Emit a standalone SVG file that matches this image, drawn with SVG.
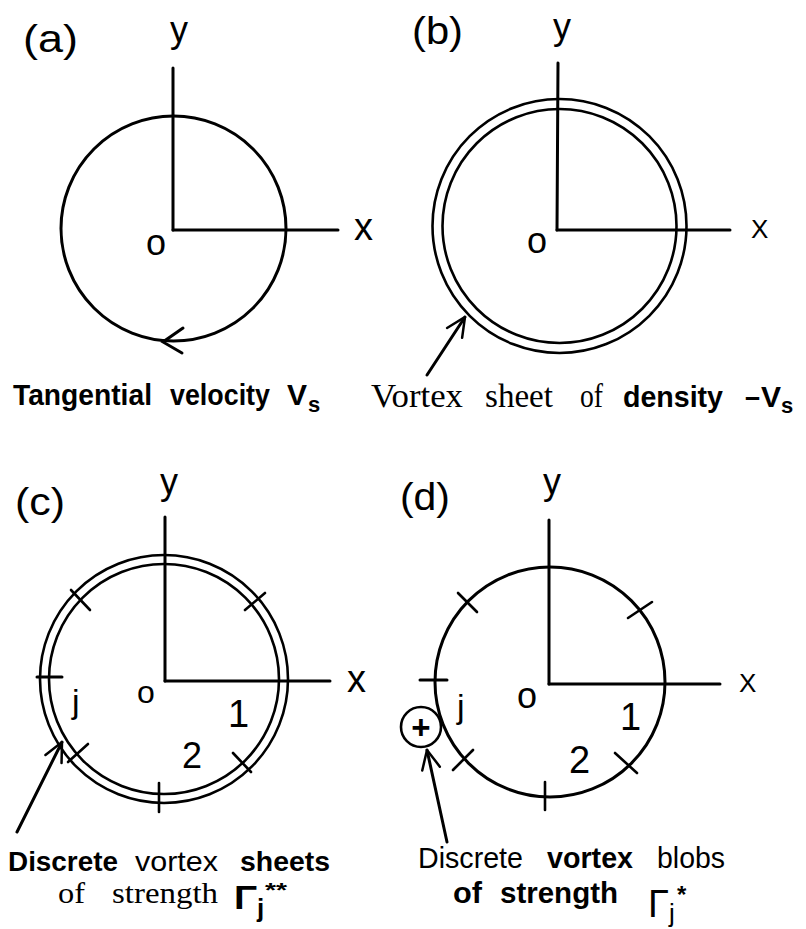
<svg xmlns="http://www.w3.org/2000/svg" width="806" height="929" viewBox="0 0 806 929">
<defs>
<style>
.ln{fill:none;stroke:#000;stroke-width:3;stroke-linecap:round}
.dl{fill:none;stroke:#000;stroke-width:2.6}
.tk{fill:none;stroke:#000;stroke-width:2.6;stroke-linecap:round}
.lb{font-family:"Liberation Sans",Arial,sans-serif;font-size:36px;fill:#000}
.cap{font-family:"Liberation Sans",Arial,sans-serif;font-size:30px;fill:#000}
.b{font-weight:bold}
.ser{font-family:"Liberation Serif","Times New Roman",serif;font-size:33px;fill:#000}
</style>
<marker id="arr" viewBox="0 0 22 22" refX="21" refY="11" markerWidth="22" markerHeight="22" markerUnits="userSpaceOnUse" orient="auto">
<path d="M2,2 L21,11 L2,20" fill="none" stroke="#000" stroke-width="2.5" stroke-linecap="round"/>
</marker>
</defs>
<rect width="806" height="929" fill="#fff"/>

<g id="panel-a">
<text class="lb" x="23" y="52" style="font-size:38px" textLength="55" lengthAdjust="spacingAndGlyphs">(a)</text>
<text class="lb" x="170" y="42">y</text>
<line class="ln" x1="173" y1="68" x2="173" y2="230"/>
<line class="ln" x1="173" y1="230" x2="338" y2="230"/>
<text class="lb" x="354" y="240" style="font-size:38px">x</text>
<text class="lb" x="146" y="255">o</text>
<circle class="ln" cx="173.5" cy="228.5" r="112.5"/>
<path class="ln" d="M183,328 L163,342 L182,353"/>
</g>

<g id="panel-b">
<text class="lb" x="412" y="44" style="font-size:38px" textLength="51" lengthAdjust="spacingAndGlyphs">(b)</text>
<text class="lb" x="553" y="39">y</text>
<line class="ln" x1="558" y1="63" x2="557" y2="230"/>
<line class="ln" x1="557" y1="230" x2="730" y2="230"/>
<text class="lb" x="751" y="238" style="font-size:26px">X</text>
<text class="lb" x="527" y="253">o</text>
<circle class="dl" cx="559.5" cy="226" r="127"/>
<circle class="dl" cx="559.5" cy="226" r="117"/>
</g>

<g id="panel-c">
<text class="lb" x="15" y="515" style="font-size:38px" textLength="50" lengthAdjust="spacingAndGlyphs">(c)</text>
<text class="lb" x="160" y="494">y</text>
<line class="ln" x1="165" y1="517" x2="165" y2="681"/>
<line class="ln" x1="165" y1="681" x2="330" y2="681"/>
<text class="lb" x="347" y="692" style="font-size:38px">x</text>
<circle class="dl" cx="164" cy="679" r="124"/>
<circle class="dl" cx="164" cy="679" r="115"/>
<line class="tk" x1="245" y1="610" x2="265" y2="593"/>
<line class="tk" x1="71" y1="590" x2="90" y2="610"/>
<line class="ln" x1="37" y1="677" x2="62" y2="677"/>
<line class="tk" x1="68" y1="762" x2="88" y2="744"/>
<line class="tk" x1="159" y1="783" x2="159" y2="812"/>
<line class="tk" x1="233" y1="753" x2="251" y2="772"/>
<text class="lb" x="72" y="713" style="font-size:34px">j</text>
<text class="lb" x="137" y="703" style="font-size:32px">o</text>
<text class="lb" x="228" y="727" style="font-size:38px">1</text>
<text class="lb" x="182" y="768">2</text>
</g>

<g id="panel-d">
<text class="lb" x="400" y="510" style="font-size:38px" textLength="50" lengthAdjust="spacingAndGlyphs">(d)</text>
<text class="lb" x="543" y="494">y</text>
<line class="ln" x1="549" y1="520" x2="549" y2="684"/>
<line class="ln" x1="549" y1="684" x2="720" y2="684"/>
<text class="lb" x="739" y="692" style="font-size:26px">X</text>
<circle class="ln" cx="550" cy="682" r="115"/>
<line class="tk" x1="458" y1="593" x2="477" y2="612"/>
<line class="tk" x1="628" y1="618" x2="652" y2="602"/>
<line class="ln" x1="420" y1="680" x2="447" y2="680"/>
<line class="tk" x1="453" y1="770" x2="473" y2="750"/>
<line class="tk" x1="545" y1="782" x2="545" y2="810"/>
<line class="tk" x1="615" y1="753" x2="637" y2="773"/>
<text class="lb" x="457" y="718" style="font-size:34px">j</text>
<text class="lb" x="517" y="708">o</text>
<text class="lb" x="620" y="730" style="font-size:38px">1</text>
<text class="lb" x="569" y="773" style="font-size:38px">2</text>
</g>

<g id="blob-d">
<circle cx="421" cy="727" r="20" fill="#fff" stroke="#000" stroke-width="2.6"/>
<text class="lb b" x="421" y="739" style="font-size:33px" text-anchor="middle">+</text>
</g>

<g id="connectors">
<line class="ln" x1="427" y1="375" x2="465" y2="317" marker-end="url(#arr)"/>
<line class="ln" x1="17" y1="832" x2="62" y2="742" marker-end="url(#arr)"/>
<line class="ln" x1="447" y1="842" x2="427" y2="750" marker-end="url(#arr)"/>
</g>

<g id="caption-a">
<text class="cap b" x="13" y="405" textLength="139" lengthAdjust="spacingAndGlyphs">Tangential</text>
<text class="cap b" x="170" y="405" textLength="100" lengthAdjust="spacingAndGlyphs">velocity</text>
<text class="cap b" x="287" y="405">V</text>
<text class="cap b" x="308" y="412" style="font-size:22px">s</text>
</g>

<g id="caption-b">
<text class="ser" x="371" y="407" textLength="92" lengthAdjust="spacingAndGlyphs">Vortex</text>
<text class="ser" x="485" y="407" textLength="68" lengthAdjust="spacingAndGlyphs">sheet</text>
<text class="ser" x="580" y="407" textLength="23" lengthAdjust="spacingAndGlyphs">of</text>
<text class="cap b" x="623" y="407" textLength="100" lengthAdjust="spacingAndGlyphs">density</text>
<text class="cap b" x="745" y="407" textLength="15" lengthAdjust="spacingAndGlyphs">–</text>
<text class="cap b" x="761" y="407">V</text>
<text class="cap b" x="781" y="413" style="font-size:22px">s</text>
</g>

<g id="caption-c">
<text class="cap b" x="8" y="871" style="font-size:28px" textLength="110" lengthAdjust="spacingAndGlyphs">Discrete</text>
<text class="cap" x="135" y="871" style="font-size:28px" textLength="83" lengthAdjust="spacingAndGlyphs">vortex</text>
<text class="cap b" x="240" y="871" style="font-size:28px" textLength="90" lengthAdjust="spacingAndGlyphs">sheets</text>
<text class="ser" x="58" y="903" style="font-size:29px" textLength="27" lengthAdjust="spacingAndGlyphs">of</text>
<text class="ser" x="112" y="903" style="font-size:29px" textLength="106" lengthAdjust="spacingAndGlyphs">strength</text>
<text class="cap b" x="234" y="909" style="font-size:34px" textLength="23" lengthAdjust="spacingAndGlyphs">Γ</text>
<text class="cap b" x="257" y="917" style="font-size:26px">j</text>
<text class="cap b" x="265" y="897" style="font-size:20px" textLength="22" lengthAdjust="spacingAndGlyphs">**</text>
</g>

<g id="caption-d">
<text class="cap" x="418" y="868" textLength="105" lengthAdjust="spacingAndGlyphs">Discrete</text>
<text class="cap b" x="547" y="868" textLength="86" lengthAdjust="spacingAndGlyphs">vortex</text>
<text class="cap" x="657" y="868" textLength="68" lengthAdjust="spacingAndGlyphs">blobs</text>
<text class="cap b" x="453" y="903" textLength="29" lengthAdjust="spacingAndGlyphs">of</text>
<text class="cap b" x="500" y="903" textLength="118" lengthAdjust="spacingAndGlyphs">strength</text>
<text class="cap" x="648" y="917" style="font-size:38px">Γ</text>
<text class="cap" x="669" y="922" style="font-size:26px">j</text>
<text class="cap b" x="677" y="903" style="font-size:24px">*</text>
</g>
</svg>
